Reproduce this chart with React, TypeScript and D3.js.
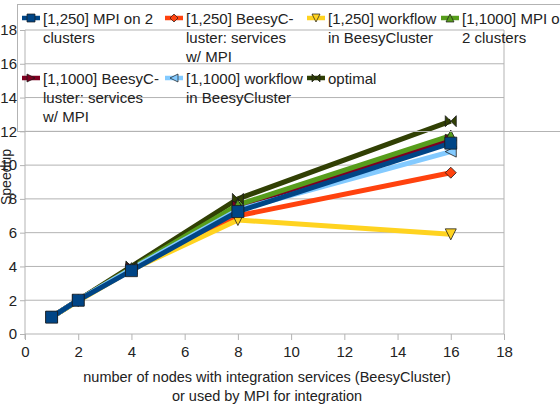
import React, { useEffect, useRef } from 'react';
import * as d3 from 'd3';

const nodes = [1, 2, 4, 8, 16];
const seriesNames = [
  ['[1,250] MPI on 2', 'clusters'],
  ['[1,250] BeesyC-', 'luster: services', 'w/ MPI'],
  ['[1,250] workflow', 'in BeesyCluster'],
  ['[1,1000] MPI on', '2 clusters'],
  ['[1,1000] BeesyC-', 'luster: services', 'w/ MPI'],
  ['[1,1000] workflow', 'in BeesyCluster'],
  ['optimal'],
];
const mpi250 = [1, 2, 3.75, 7.25, 11.3];
const beesy250 = [1, 2, 3.8, 7.0, 9.55];
const workflow250 = [1, 1.95, 3.8, 6.75, 5.9];
const mpi1000 = [1, 2, 3.9, 7.65, 11.75];
const beesy1000 = [1, 2, 3.9, 7.55, 11.5];
const workflow1000 = [1, 2, 3.85, 7.35, 10.8];
const optimal = [1, 2, 4, 8, 12.6];
const seriesValues = [mpi250, beesy250, workflow250, mpi1000, beesy1000, workflow1000, optimal];
const colors = ['#004586', '#ff420e', '#ffd320', '#579d1c', '#7e0021', '#83caff', '#314004'];
const shapes = ['square', 'diamond', 'down', 'up', 'right', 'left', 'bowtie'];
const ticks = [0, 2, 4, 6, 8, 10, 12, 14, 16, 18];

// marker outline for a given shape, centered at 0,0
const markerPath = (shape: string, s: number) => {
  const h = s / 2;
  switch (shape) {
    case 'square': return `M${-h},${-h}H${h}V${h}H${-h}Z`;
    case 'diamond': return `M0,${-h}L${h},0L0,${h}L${-h},0Z`;
    case 'down': return `M${-h},${-h}H${h}L0,${h}Z`;
    case 'up': return `M${-h},${h}H${h}L0,${-h}Z`;
    case 'right': return `M${-h},${-h}L${h},0L${-h},${h}Z`;
    case 'left': return `M${h},${-h}L${-h},0L${h},${h}Z`;
    default: return `M${-h},${-h}L${h},${h}V${-h}L${-h},${h}Z`;
  }
};

const App: React.FC = () => {
  const svgRef = useRef<SVGSVGElement>(null);

  useEffect(() => {
    if (!svgRef.current) return;
    const svg = d3.select(svgRef.current);
    svg.selectAll('*').remove();

    const x = d3.scaleLinear().domain([0, 18]).range([25, 504]);
    const y = d3.scaleLinear().domain([0, 18]).range([334, 30]);
    const font = '"Liberation Sans", Arial, sans-serif';

    // grid
    svg.append('g').selectAll('line').data(ticks).enter().append('line')
      .attr('x1', x(0)).attr('x2', x(18))
      .attr('y1', d => y(d)).attr('y2', d => y(d))
      .attr('stroke', '#b3b3b3').attr('stroke-width', 1);
    svg.append('line').attr('x1', x(0)).attr('x2', x(0)).attr('y1', y(18)).attr('y2', y(0) + 5)
      .attr('stroke', '#b3b3b3');
    svg.append('line').attr('x1', x(18)).attr('x2', x(18)).attr('y1', y(18)).attr('y2', y(0))
      .attr('stroke', '#b3b3b3');

    // axes
    const xAxis = svg.append('g').attr('transform', `translate(0,${y(0)})`)
      .call(d3.axisBottom(x).tickValues(ticks).tickSize(6).tickPadding(6));
    const yAxis = svg.append('g').attr('transform', `translate(${x(0)},0)`)
      .call(d3.axisLeft(y).tickValues(ticks).tickSize(5).tickPadding(3));
    [xAxis, yAxis].forEach(a => {
      a.select('.domain').remove();
      a.selectAll('line').attr('stroke', '#b3b3b3');
      a.selectAll('text').attr('fill', '#222').style('font-size', '15px').style('font-family', font);
    });

    // axis titles
    svg.append('text').attr('transform', `translate(11,177) rotate(-90)`)
      .attr('text-anchor', 'middle').attr('fill', '#222')
      .style('font-size', '14px').style('font-family', font).text('Speedup');
    const xt = svg.append('text').attr('text-anchor', 'middle').attr('fill', '#222')
      .style('font-size', '14.5px').style('font-family', font);
    xt.append('tspan').attr('x', 267).attr('y', 382).text('number of nodes with integration services (BeesyCluster)');
    xt.append('tspan').attr('x', 267).attr('y', 401).text('or used by MPI for integration');

    // lines
    const line = d3.line<number>().x((_, i) => x(nodes[i])).y(d => y(d));
    const order = [6, 1, 2, 4, 3, 5, 0];
    order.forEach(k => {
      svg.append('path').datum(seriesValues[k])
        .attr('d', line).attr('fill', 'none')
        .attr('stroke', colors[k]).attr('stroke-width', 5).attr('stroke-linejoin', 'round');
    });
    order.forEach(k => {
      svg.append('g').selectAll('path').data(seriesValues[k]).enter().append('path')
        .attr('transform', (d, i) => `translate(${x(nodes[i])},${y(d)})`)
        .attr('d', markerPath(shapes[k], shapes[k] === 'square' ? 12 : 11))
        .attr('fill', colors[k]).attr('stroke', '#1a1a1a').attr('stroke-width', 0.8);
    });

    // legend
    const legend = svg.append('g');
    legend.append('rect').attr('x', 17.5).attr('y', 4.5).attr('width', 600).attr('height', 127)
      .attr('fill', 'none').attr('stroke', '#b3b3b3');
    const colX = [22, 165, 307, 441];
    const rowY = [18, 78];
    seriesNames.forEach((lines, k) => {
      const cx = colX[k % 4];
      const cy = rowY[Math.floor(k / 4)];
      const g = legend.append('g').attr('transform', `translate(${cx},${cy})`);
      g.append('line').attr('x1', 0).attr('x2', 18).attr('y1', 0).attr('y2', 0)
        .attr('stroke', colors[k]).attr('stroke-width', 4.5);
      g.append('path').attr('transform', 'translate(9,0)').attr('d', markerPath(shapes[k], 8))
        .attr('fill', colors[k]).attr('stroke', '#1a1a1a').attr('stroke-width', 0.7);
      const t = g.append('text').attr('fill', '#222')
        .style('font-size', '15px').style('font-family', font);
      lines.forEach((s, j) => {
        t.append('tspan').attr('x', 21).attr('y', 5.5 + j * 19).text(s);
      });
    });
  }, []);

  return (
    <svg ref={svgRef} width={560} height={406}
      style={{ position: 'absolute', left: 0, top: 0, background: '#fff' }} />
  );
};

export default App;
